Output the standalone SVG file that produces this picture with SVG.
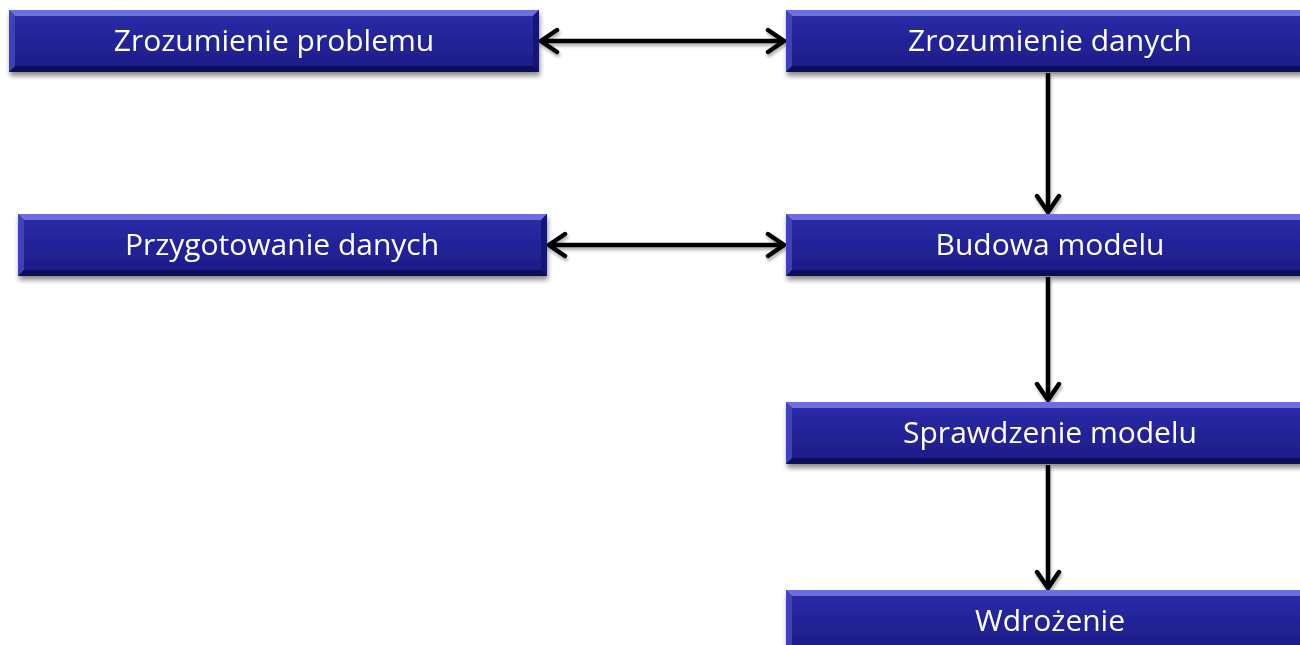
<svg xmlns="http://www.w3.org/2000/svg" width="1300" height="645" viewBox="0 0 1300 645">
<style>
.lbl{font-family:"Open Sans","Noto Sans","Liberation Sans",sans-serif;font-size:30px;font-weight:400;fill:#ffffff;text-anchor:middle}
.conn{stroke:#000;stroke-width:4.5;fill:none}
.bt{fill:#7a7ae6;opacity:0.85}
.bl{fill:#4848c0;opacity:0.8}
.bb{fill:#0e0e58;opacity:0.8}
.br{fill:#14146a;opacity:0.8}
</style>
<defs>
<linearGradient id="g" x1="0" y1="0" x2="0" y2="1">
<stop offset="0" stop-color="#2c2ca8"/>
<stop offset="0.5" stop-color="#232398"/>
<stop offset="1" stop-color="#1b1b86"/>
</linearGradient>
<filter id="sh" x="-5%" y="-20%" width="110%" height="160%">
<feGaussianBlur in="SourceAlpha" stdDeviation="2.5"/>
<feOffset dx="1" dy="4" result="b"/>
<feComponentTransfer><feFuncA type="linear" slope="0.45"/></feComponentTransfer>
<feMerge><feMergeNode/><feMergeNode in="SourceGraphic"/></feMerge>
</filter>
<marker id="ah" viewBox="0 0 24 28" refX="21" refY="14" markerWidth="24" markerHeight="28" markerUnits="userSpaceOnUse" orient="auto-start-reverse">
<path d="M5,3 L21,14 L5,25" fill="none" stroke="#000" stroke-width="4.5" stroke-linecap="round" stroke-linejoin="miter"/>
</marker>
<filter id="lsh" x="-10%" y="-50%" width="120%" height="200%">
<feGaussianBlur in="SourceAlpha" stdDeviation="1.5"/>
<feOffset dx="1" dy="3"/>
<feComponentTransfer><feFuncA type="linear" slope="0.3"/></feComponentTransfer>
<feMerge><feMergeNode/><feMergeNode in="SourceGraphic"/></feMerge>
</filter>
</defs>
<rect width="1300" height="645" fill="#fff"/>

<g id="connectors" filter="url(#lsh)">
<line class="conn" x1="541" y1="41" x2="784" y2="41" marker-start="url(#ah)" marker-end="url(#ah)"/>
<line class="conn" x1="549" y1="245" x2="784" y2="245" marker-start="url(#ah)" marker-end="url(#ah)"/>
<line class="conn" x1="1048" y1="73" x2="1048" y2="212" marker-end="url(#ah)"/>
<line class="conn" x1="1048" y1="277" x2="1048" y2="400" marker-end="url(#ah)"/>
<line class="conn" x1="1048" y1="465" x2="1048" y2="588" marker-end="url(#ah)"/>
</g>

<g id="n1" filter="url(#sh)">
<rect x="9" y="10" width="530" height="62" fill="url(#g)"/>
<polygon class="bt" points="9,10 539,10 533,16 15,16"/>
<polygon class="bl" points="9,10 15,16 15,66 9,72"/>
<polygon class="bb" points="9,72 15,66 533,66 539,72"/>
<polygon class="br" points="539,10 539,72 533,66 533,16"/>
<text class="lbl" x="274" y="51">Zrozumienie problemu</text>
</g>

<g id="n2" filter="url(#sh)">
<rect x="786" y="10" width="530" height="62" fill="url(#g)"/>
<polygon class="bt" points="786,10 1316,10 1310,16 792,16"/>
<polygon class="bl" points="786,10 792,16 792,66 786,72"/>
<polygon class="bb" points="786,72 792,66 1310,66 1316,72"/>
<text class="lbl" x="1050" y="51">Zrozumienie danych</text>
</g>

<g id="n3" filter="url(#sh)">
<rect x="18" y="214" width="529" height="62" fill="url(#g)"/>
<polygon class="bt" points="18,214 547,214 541,220 24,220"/>
<polygon class="bl" points="18,214 24,220 24,270 18,276"/>
<polygon class="bb" points="18,276 24,270 541,270 547,276"/>
<polygon class="br" points="547,214 547,276 541,270 541,220"/>
<text class="lbl" x="282" y="255">Przygotowanie danych</text>
</g>

<g id="n4" filter="url(#sh)">
<rect x="786" y="214" width="530" height="62" fill="url(#g)"/>
<polygon class="bt" points="786,214 1316,214 1310,220 792,220"/>
<polygon class="bl" points="786,214 792,220 792,270 786,276"/>
<polygon class="bb" points="786,276 792,270 1310,270 1316,276"/>
<text class="lbl" x="1050" y="255">Budowa modelu</text>
</g>

<g id="n5" filter="url(#sh)">
<rect x="786" y="402" width="530" height="62" fill="url(#g)"/>
<polygon class="bt" points="786,402 1316,402 1310,408 792,408"/>
<polygon class="bl" points="786,402 792,408 792,458 786,464"/>
<polygon class="bb" points="786,464 792,458 1310,458 1316,464"/>
<text class="lbl" x="1050" y="443">Sprawdzenie modelu</text>
</g>

<g id="n6" filter="url(#sh)">
<rect x="786" y="590" width="530" height="62" fill="url(#g)"/>
<polygon class="bt" points="786,590 1316,590 1310,596 792,596"/>
<polygon class="bl" points="786,590 792,596 792,646 786,652"/>
<text class="lbl" x="1050" y="631">Wdrożenie</text>
</g>
</svg>
